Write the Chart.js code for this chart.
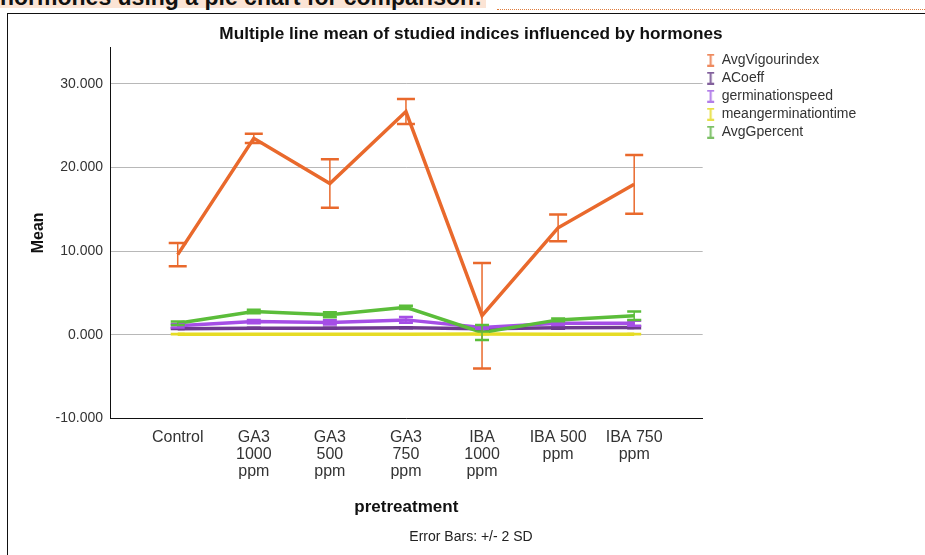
<!DOCTYPE html>
<html lang="en">
    <head>
        <meta charset="UTF-8">
        <title>Multiple line mean of studied indices influenced by hormones</title>
        <script src="https://cdn.jsdelivr.net/npm/chart.js"></script>
        <style>
            body { margin: 0; width: 925px; height: 555px; overflow: hidden; background: #fff; font-family: 'Liberation Sans', Arial, sans-serif; position: relative; }
            #heading { position: absolute; left: 0; top: -14px; font-weight: bold; font-size: 23px; line-height: 22px; background: #fbe4d5; color: #111; white-space: nowrap; padding-right: 4px; }
            #dots { position: absolute; left: 497px; right: 0; top: 9px; border-top: 1px dotted #e07b39; }
            #box { position: absolute; left: 7px; top: 13px; width: 940px; height: 560px; border-left: 1.5px solid #111; border-top: 1.5px solid #111; }
            #wrap { position: absolute; left: 8px; top: 14px; width: 926px; height: 541px; }
        </style>
    </head>
    <body>
        <div id="heading">hormones using a pie chart for comparison:</div>
        <div id="dots"></div>
        <div id="box"></div>
        <div id="wrap"><canvas id="lineChart"></canvas></div>

        <script>
            // categories on the x axis (multi-line tick labels)
            const tickLabels = [
                ['Control'],
                ['GA3', '1000', 'ppm'],
                ['GA3', '500', 'ppm'],
                ['GA3', '750', 'ppm'],
                ['IBA', '1000', 'ppm'],
                ['IBA 500', 'ppm'],
                ['IBA 750', 'ppm']
            ];

            // means
            const avgVigour = [9.6, 23.5, 18.1, 26.7, 2.3, 12.8, 18.0];
            const aCoeff = [0.75, 0.8, 0.8, 0.85, 0.75, 0.85, 0.9];
            const germSpeed = [1.1, 1.6, 1.5, 1.8, 0.9, 1.4, 1.4];
            const meanGermTime = [0.09, 0.08, 0.08, 0.08, 0.1, 0.08, 0.09];
            const avgGpercent = [1.4, 2.8, 2.4, 3.3, 0.3, 1.8, 2.3];

            // error bars: +/- 2 SD
            const avgVigourErr = [1.4, 0.55, 2.9, 1.5, 6.3, 1.6, 3.5];
            const aCoeffErr = [0.05, 0.05, 0.05, 0.05, 0.05, 0.1, 0.1];
            const germSpeedErr = [0.2, 0.2, 0.25, 0.35, 0.15, 0.2, 0.3];
            const meanGermTimeErr = [0.01, 0.01, 0.01, 0.01, 0.01, 0.01, 0.01];
            const avgGpercentErr = [0.2, 0.2, 0.3, 0.2, 0.9, 0.15, 0.5];

            const font = "'Liberation Sans', Arial, sans-serif";

            const series = [
                { label: 'AvgVigourindex', values: avgVigour, errors: avgVigourErr, color: '#e9692c', icon: '#ee8a5f', cap: 9, order: 0 },
                { label: 'ACoeff', values: aCoeff, errors: aCoeffErr, color: '#6e3a8e', icon: '#82609c', cap: 7, order: 3 },
                { label: 'germinationspeed', values: germSpeed, errors: germSpeedErr, color: '#a54ee6', icon: '#b27ee8', cap: 7, order: 2 },
                { label: 'meangerminationtime', values: meanGermTime, errors: meanGermTimeErr, color: '#e6dc25', icon: '#e8e04a', cap: 7, order: 4 },
                { label: 'AvgGpercent', values: avgGpercent, errors: avgGpercentErr, color: '#5bbd3a', icon: '#7cc066', cap: 7, order: 1 }
            ];

            // small "I" shaped icon like the error bar legend
            function barIcon(color) {
                const c = document.createElement('canvas');
                c.width = 9; c.height = 13;
                const g = c.getContext('2d');
                g.fillStyle = color;
                g.fillRect(1, 0, 7, 2);
                g.fillRect(3.5, 0, 2, 13);
                g.fillRect(1, 11, 7, 2);
                return c;
            }

            const errorBars = {
                id: 'errorBars',
                afterDatasetsDraw(chart) {
                    const { ctx, scales: { x, y } } = chart;
                    chart.data.datasets.forEach((ds, i) => {
                        const s = series[i];
                        ctx.save();
                        ctx.strokeStyle = s.color;
                        s.values.forEach((v, j) => {
                            const px = x.getPixelForValue(j);
                            const top = y.getPixelForValue(v + s.errors[j]);
                            const bottom = y.getPixelForValue(v - s.errors[j]);
                            ctx.lineWidth = 1.5;
                            ctx.beginPath();
                            ctx.moveTo(px, top);
                            ctx.lineTo(px, bottom);
                            ctx.stroke();
                            ctx.lineWidth = 2.5;
                            ctx.beginPath();
                            ctx.moveTo(px - s.cap, top);
                            ctx.lineTo(px + s.cap, top);
                            ctx.moveTo(px - s.cap, bottom);
                            ctx.lineTo(px + s.cap, bottom);
                            ctx.stroke();
                        });
                        ctx.restore();
                    });
                }
            };

            const ctx = document.getElementById('lineChart').getContext('2d');
            const chart = new Chart(ctx, {
                type: 'line',
                data: {
                    datasets: series.map(s => ({
                        label: s.label,
                        data: s.values.map((v, i) => ({ x: i, y: v })),
                        borderColor: s.color,
                        backgroundColor: s.color,
                        borderWidth: 3.5,
                        pointRadius: 0,
                        tension: 0,
                        order: s.order
                    }))
                },
                options: {
                    responsive: true,
                    maintainAspectRatio: false,
                    animation: false,
                    layout: { padding: { top: 0, right: 0, bottom: 9, left: 0 } },
                    plugins: {
                        title: {
                            display: true,
                            text: 'Multiple line mean of studied indices influenced by hormones',
                            color: '#111',
                            font: { family: font, size: 17.2, weight: 'bold', lineHeight: 1.2 },
                            padding: { top: 10, bottom: 2.5 }
                        },
                        subtitle: {
                            display: true,
                            position: 'bottom',
                            text: 'Error Bars: +/- 2 SD',
                            color: '#222',
                            font: { family: font, size: 14, lineHeight: 1.2 },
                            padding: { top: 0, bottom: 0 }
                        },
                        legend: {
                            position: 'right',
                            align: 'start',
                            fullSize: false,
                            weight: 1,
                            title: { display: true, text: ' ', font: { size: 2, lineHeight: 1 }, padding: 0 },
                            labels: {
                                usePointStyle: true,
                                pointStyleWidth: 8,
                                boxHeight: 12,
                                color: '#333',
                                font: { family: font, size: 14, lineHeight: 1 },
                                padding: 4,
                                generateLabels: () => series.map((s, i) => ({
                                    text: s.label,
                                    fontColor: '#333',
                                    pointStyle: barIcon(s.icon),
                                    datasetIndex: i,
                                    lineWidth: 0,
                                    strokeStyle: 'transparent',
                                    fillStyle: 'transparent'
                                }))
                            }
                        },
                        tooltip: { enabled: false }
                    },
                    scales: {
                        x: {
                            type: 'linear',
                            min: -0.89,
                            max: 6.9,
                            afterFit: scale => { scale.height = 110.6; },
                            grid: { display: false },
                            border: { display: true, color: '#111', width: 1 },
                            ticks: {
                                stepSize: 1,
                                includeBounds: false,
                                autoSkip: false,
                                maxRotation: 0,
                                padding: 3,
                                color: '#333',
                                font: { family: font, size: 16, lineHeight: 1.06 },
                                callback: v => tickLabels[v] || ''
                            },
                            title: {
                                display: true,
                                text: 'pretreatment',
                                color: '#111',
                                font: { family: font, size: 17, weight: 'bold', lineHeight: 1.2 },
                                padding: { top: 0, bottom: 12 }
                            }
                        },
                        y: {
                            min: -10,
                            max: 34.4,
                            afterFit: scale => { scale.width = 102; },
                            grid: { color: '#b8b8b8', lineWidth: 1, drawTicks: false },
                            border: { display: true, color: '#111', width: 1 },
                            ticks: {
                                stepSize: 10,
                                includeBounds: false,
                                padding: 7,
                                color: '#333',
                                font: { family: font, size: 14 },
                                callback: v => v.toFixed(3)
                            },
                            title: {
                                display: true,
                                text: 'Mean',
                                color: '#111',
                                font: { family: font, size: 16, weight: 'bold', lineHeight: 1.2 },
                                padding: { top: 21 }
                            }
                        },
                        // empty space on the far right, keeps the title centred on the whole frame
                        spacer: {
                            type: 'linear',
                            position: 'right',
                            weight: 2000,
                            afterFit: scale => { scale.width = 77; },
                            grid: { display: false, drawOnChartArea: false },
                            border: { display: false },
                            ticks: { display: false }
                        }
                    }
                },
                plugins: [errorBars]
            });
        </script>
    </body>
</html>
